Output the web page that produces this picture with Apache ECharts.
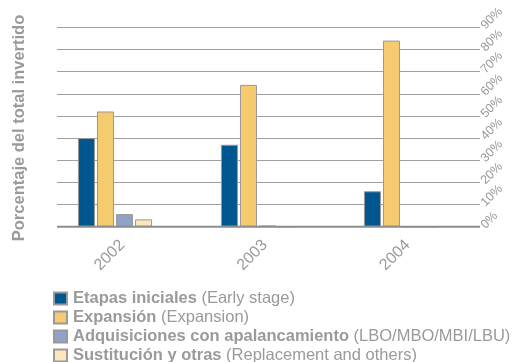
<!DOCTYPE html>
<html>
<head>
<meta charset="utf-8">
<script src="https://cdn.jsdelivr.net/npm/echarts@6/dist/echarts.min.js"></script>
<style>
  html, body { margin: 0; padding: 0; background: #fff; }
  #chart { width: 529px; height: 362px; }
</style>
</head>
<body>
<div id="chart"></div>
<script>
// Investment by stage, share of total invested (%)
const years = ['2002', '2003', '2004'];
const earlyStage = [40, 37, 16];
const expansion = [52, 64, 84];
const buyouts = [5.7, 0.5, 0];
const replacement = [3.3, 0, 0];
const yTicks = [0, 10, 20, 30, 40, 50, 60, 70, 80, 90];

const seriesNames = [
  ['Etapas iniciales', '(Early stage)'],
  ['Expansión', '(Expansion)'],
  ['Adquisiciones con apalancamiento', '(LBO/MBO/MBI/LBU)'],
  ['Sustitución y otras', '(Replacement and others)']
];
const seriesData = [earlyStage, expansion, buyouts, replacement];
const colors = ['#00568f', '#f6cb70', '#8fa2c8', '#fde5bc'];

const grey = '#9a9a9a';
const font = 'Liberation Sans, Arial, Helvetica, sans-serif';

const chart = echarts.init(document.getElementById('chart'), null, { renderer: 'canvas' });

const plotTop = 27.3, plotBottom = 362 - 226.7;

chart.setOption({
  animation: false,
  textStyle: { fontFamily: font },
  grid: [
    // bars
    { left: 43.5, right: 529 - 472.5, top: plotTop, bottom: plotBottom },
    // horizontal rules and percentage scale
    { left: 57, right: 529 - 480, top: plotTop, bottom: plotBottom },
    // year labels
    { left: 51, right: 529 - 479, top: plotTop, bottom: plotBottom }
  ],
  xAxis: [
    { type: 'category', data: years, gridIndex: 0,
      axisLine: { show: false }, axisTick: { show: false }, axisLabel: { show: false } },
    { type: 'value', gridIndex: 1, min: 0, max: 1, show: false },
    { type: 'category', data: years, gridIndex: 2,
      axisLine: { show: false }, axisTick: { show: false },
      axisLabel: { rotate: 45, margin: 16, color: grey, fontSize: 16, fontFamily: font } }
  ],
  yAxis: [
    { type: 'value', gridIndex: 0, min: 0, max: 90, interval: 10, show: false },
    { type: 'value', gridIndex: 1, position: 'right', min: 0, max: 90, interval: 10,
      axisLine: { show: false }, axisTick: { show: false },
      splitLine: { show: true, lineStyle: { color: '#a0a0a0', width: 1 } },
      axisLabel: { rotate: 45, margin: 3, color: grey, fontSize: 12.5, fontFamily: font,
        formatter: v => yTicks.indexOf(v) >= 0 ? v + '%' : '' } },
    { type: 'value', gridIndex: 2, min: 0, max: 90, show: false }
  ],
  legend: {
    orient: 'vertical',
    left: 53, top: 290, height: 100,
    padding: 0,
    itemWidth: 13, itemHeight: 12, itemGap: 2,
    icon: 'rect',
    data: seriesNames.map(n => n[0]),
    formatter: name => {
      const item = seriesNames.find(n => n[0] === name);
      return '{b|' + item[0] + '} {n|' + item[1] + '}';
    },
    textStyle: {
      color: grey, fontSize: 16.5, fontFamily: font, padding: [0, 0, 0, 1],
      rich: {
        b: { fontWeight: 'bold', color: grey, fontSize: 16.5, fontFamily: font, lineHeight: 17 },
        n: { color: grey, fontSize: 16.5, fontFamily: font, lineHeight: 17 }
      }
    }
  },
  graphic: [
    // baseline
    { type: 'line', shape: { x1: 57, y1: 226.7, x2: 480, y2: 226.7 },
      style: { stroke: '#8c8c8c', lineWidth: 2 }, z: 5 },
    // vertical axis title
    { type: 'text', x: 19, y: 128, rotation: Math.PI / 2,
      style: { text: 'Porcentaje del total invertido', fill: grey,
        font: 'bold 16.5px ' + font, align: 'center', verticalAlign: 'middle' } }
  ],
  series: seriesData.map((d, i) => ({
    name: seriesNames[i][0],
    type: 'bar',
    xAxisIndex: 0, yAxisIndex: 0,
    data: d,
    barWidth: 17,
    barGap: '12%',
    z: 3,
    itemStyle: { color: colors[i], borderColor: '#999999', borderWidth: 1 }
  }))
});
</script>
</body>
</html>
